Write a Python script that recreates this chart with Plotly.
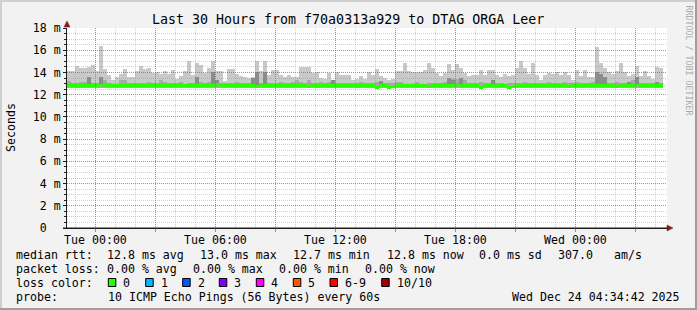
import pandas as pd
import plotly.graph_objects as go

# ---------------- data ----------------
t_start = "2025-12-22 22:34:42"
t_end = "2025-12-24 04:34:42"
first_bar_center = "2025-12-22 22:42:00"
step_minutes = 12

# top of the smoke (slowest ping) in ms
smoke_top = [
    14.13, 14.13, 14.58, 14.37, 14.37, 14.50, 14.67, 14.13, 16.40, 14.33,
    13.77, 13.32, 13.60, 13.90, 14.30, 13.55, 13.55, 14.10, 14.58, 14.33,
    14.40, 13.95, 14.00, 13.90, 14.10, 13.90, 14.20, 13.45, 13.65, 14.10,
    15.03, 13.77, 14.82, 14.67, 13.95, 14.40, 15.00, 14.10, 14.10, 13.20,
    14.33, 14.33, 13.90, 13.70, 13.55, 13.50, 13.55, 15.00, 14.10, 15.00,
    13.77, 14.20, 14.20, 13.77, 13.55, 13.77, 13.55, 13.55, 14.46, 14.46,
    14.46, 13.92, 14.07, 13.47, 13.38, 13.92, 13.32, 14.00, 13.77, 13.77,
    13.77, 13.35, 13.40, 13.65, 13.40, 14.00, 13.80, 14.30, 13.65, 13.50,
    13.35, 13.38, 14.10, 14.10, 14.88, 14.10, 14.00, 14.00, 14.00, 14.25,
    14.85, 14.40, 13.95, 13.65, 13.95, 14.80, 14.25, 14.80, 14.40, 13.95,
    13.65, 13.77, 13.77, 14.20, 13.77, 14.20, 14.20, 13.77, 13.55, 13.90,
    13.70, 13.77, 14.40, 15.00, 14.40, 13.90, 14.85, 13.77, 13.30, 13.77,
    13.95, 13.90, 14.00, 13.80, 14.00, 13.77, 13.30, 14.20, 13.70, 14.25,
    13.60, 13.60, 16.30, 14.85, 14.40, 14.00, 13.90, 14.10, 14.85, 14.00,
    13.70, 13.90, 14.60, 13.70, 14.10, 13.70, 13.40, 14.50, 14.40,
]

# top of the medium-grey smoke band in ms
smoke_mid = [
    13.26, 13.08, 13.08, 13.17, 13.17, 13.20, 13.05, 13.05, 13.30, 13.30,
    13.08, 12.96, 12.96, 13.30, 13.30, 13.08, 13.08, 13.08, 13.08, 13.08,
    13.17, 13.08, 13.08, 13.30, 13.17, 13.02, 13.08, 13.08, 13.17, 12.96,
    13.08, 13.08, 13.20, 13.17, 13.08, 13.17, 13.30, 13.10, 13.08, 13.02,
    13.08, 13.08, 13.17, 13.02, 13.02, 13.08, 13.20, 13.30, 13.08, 13.30,
    13.08, 13.02, 13.02, 13.17, 13.08, 13.02, 13.17, 13.30, 13.17, 13.08,
    13.30, 13.08, 13.02, 13.17, 13.02, 13.17, 13.10, 13.08, 13.08, 13.08,
    13.08, 13.08, 13.02, 13.17, 13.08, 13.02, 13.08, 13.17, 13.26, 13.08,
    13.02, 13.08, 13.17, 13.17, 12.96, 12.96, 12.96, 13.17, 12.96, 12.96,
    13.08, 13.08, 13.02, 13.08, 13.17, 13.40, 13.38, 13.38, 13.40, 13.30,
    13.08, 13.02, 13.08, 13.17, 13.08, 13.08, 13.30, 13.08, 13.02, 12.96,
    13.02, 13.08, 13.08, 13.02, 13.17, 13.08, 13.08, 13.02, 13.08, 13.08,
    13.17, 13.08, 13.02, 13.08, 13.17, 13.08, 13.02, 13.17, 13.08, 13.08,
    13.02, 13.17, 13.45, 13.45, 13.30, 13.08, 13.08, 13.17, 13.08, 13.08,
    13.17, 13.30, 13.38, 13.08, 13.02, 13.08, 13.02, 13.17, 13.08,
]

_ = None
# top of the dark-grey smoke block above the median (None = not visible)
smoke_dark = [
    _, _, _, _, _, 13.55, _, _, 13.60, _,
    _, _, _, _, _, _, _, _, _, _,
    _, _, _, _, _, _, _, _, _, _,
    _, _, 13.55, _, _, _, 14.00, 13.30, _, _,
    _, _, _, _, _, _, 13.47, 14.07, _, 14.07,
    _, _, _, _, _, _, _, _, _, _,
    _, _, _, _, _, _, 13.30, _, _, _,
    _, _, _, _, _, _, _, _, 13.26, _,
    _, _, _, _, _, _, _, _, _, _,
    _, _, _, _, _, 13.47, 13.35, _, 13.47, _,
    _, _, _, _, _, _, 13.30, _, _, _,
    _, _, _, _, _, _, _, _, _, _,
    _, _, _, _, _, _, _, _, _, _,
    _, _, 14.05, 13.90, 13.60, _, _, _, _, _,
    13.17, _, 13.55, _, _, _, _, 13.17, _,
]

# median round trip time in ms
median_rtt = [
    12.80, 12.80, 12.80, 12.80, 12.80, 12.80, 12.80, 12.80, 12.88, 12.80,
    12.80, 12.80, 12.80, 12.80, 12.80, 12.80, 12.80, 12.80, 12.80, 12.80,
    12.85, 12.80, 12.80, 12.80, 12.80, 12.80, 12.80, 12.80, 12.80, 12.80,
    12.80, 12.80, 12.80, 12.80, 12.80, 12.80, 12.80, 12.90, 12.80, 12.80,
    12.80, 12.80, 12.80, 12.80, 12.80, 12.80, 12.80, 12.72, 12.80, 12.80,
    12.80, 12.80, 12.80, 12.80, 12.80, 12.80, 12.80, 12.80, 12.80, 12.80,
    12.75, 12.80, 12.80, 12.80, 12.80, 12.80, 12.80, 12.80, 12.80, 12.80,
    12.80, 12.80, 12.80, 12.80, 12.80, 12.80, 12.80, 12.68, 12.80, 12.80,
    12.68, 12.70, 12.80, 12.80, 12.80, 12.80, 12.80, 12.80, 12.80, 12.80,
    12.75, 12.80, 12.80, 12.80, 12.80, 12.80, 12.80, 12.90, 12.80, 12.80,
    12.80, 12.80, 12.80, 12.68, 12.80, 12.80, 12.80, 12.80, 12.80, 12.80,
    12.66, 12.70, 12.80, 12.80, 12.80, 12.80, 12.80, 12.80, 12.80, 12.80,
    12.85, 12.80, 12.80, 12.80, 12.80, 12.72, 12.80, 12.80, 12.80, 12.80,
    12.80, 12.80, 12.80, 12.80, 12.80, 12.80, 12.80, 12.72, 12.80, 12.80,
    12.80, 12.80, 12.88, 12.80, 12.80, 12.80, 12.80, 12.85, 12.80,
]

# bottom of the smoke (fastest ping) in ms
smoke_low = [
    12.58, 12.62, 12.60, 12.62, 12.58, 12.60, 12.62, 12.60, 12.58, 12.62,
    12.60, 12.58, 12.62, 12.60, 12.60, 12.58, 12.62, 12.60, 12.62, 12.58,
    12.60, 12.62, 12.58, 12.60, 12.62, 12.60, 12.58, 12.62, 12.60, 12.58,
    12.62, 12.60, 12.60, 12.58, 12.62, 12.60, 12.58, 12.62, 12.60, 12.60,
    12.58, 12.62, 12.60, 12.62, 12.58, 12.60, 12.62, 12.58, 12.60, 12.62,
    12.60, 12.58, 12.62, 12.60, 12.60, 12.62, 12.58, 12.60, 12.62, 12.60,
    12.58, 12.62, 12.60, 12.60, 12.58, 12.62, 12.60, 12.58, 12.62, 12.60,
    12.60, 12.62, 12.58, 12.60, 12.62, 12.60, 12.58, 12.55, 12.60, 12.62,
    12.55, 12.56, 12.60, 12.62, 12.58, 12.60, 12.62, 12.60, 12.58, 12.60,
    12.62, 12.60, 12.58, 12.62, 12.60, 12.60, 12.58, 12.62, 12.60, 12.58,
    12.62, 12.60, 12.60, 12.55, 12.62, 12.58, 12.60, 12.62, 12.60, 12.58,
    12.55, 12.56, 12.60, 12.62, 12.60, 12.58, 12.62, 12.60, 12.60, 12.58,
    12.62, 12.60, 12.58, 12.62, 12.60, 12.58, 12.60, 12.62, 12.60, 12.58,
    12.62, 12.60, 12.60, 12.58, 12.62, 12.60, 12.58, 12.58, 12.60, 12.62,
    12.60, 12.58, 12.62, 12.60, 12.60, 12.62, 12.58, 12.60, 12.62,
]

x_tick_times = [
    "2025-12-23 00:00", "2025-12-23 03:00", "2025-12-23 06:00", "2025-12-23 09:00",
    "2025-12-23 12:00", "2025-12-23 15:00", "2025-12-23 18:00", "2025-12-23 21:00",
    "2025-12-24 00:00", "2025-12-24 03:00",
]
x_tick_labels = ["Tue 00:00", "", "Tue 06:00", "", "Tue 12:00", "", "Tue 18:00", "",
                 "Wed 00:00", ""]
y_tick_vals = [0, 2, 4, 6, 8, 10, 12, 14, 16, 18]
y_tick_labels = ["0\u00a0\u00a0", "2\u00a0m", "4\u00a0m", "6\u00a0m", "8\u00a0m",
                 "10\u00a0m", "12\u00a0m", "14\u00a0m", "16\u00a0m", "18\u00a0m"]

title_text = "Last 30 Hours from f70a0313a929 to DTAG ORGA Leer"
legend_rows = [
    ["median rtt:", "12.8 ms avg", "13.0 ms max", "12.7 ms min", "12.8 ms now",
     "0.0 ms sd", "307.0", "am/s"],
    ["packet loss:", "0.00 % avg", "0.00 % max", "0.00 % min", "0.00 % now"],
]
loss_labels = ["0", "1", "2", "3", "4", "5", "6-9", "10/10"]
loss_colors = ["#26ff00", "#00b8ff", "#0059ff", "#7e00ff", "#ff00ff", "#ff5500",
               "#ff0000", "#a10000"]
probe_text = "10 ICMP Echo Pings (56 Bytes) every 60s"
stamp_text = "Wed Dec 24 04:34:42 2025"

# ---------------- styling ----------------
W, H = 697, 310
L, R, T, B = 67, 667, 28, 228
MONO = "DejaVu Sans Mono"
FS = 11.6
GRID = "rgba(143,143,143,0.42)"
MGRID = "rgba(225,70,70,0.75)"
AXIS = "#1f1f1f"
ARROW = "#801f1f"
FAR = "2020-01-01"


def pxx(x):
    return (x - L) / (R - L)


def pxy(y):
    return (B - y) / (B - T)


bar_times = pd.date_range(first_bar_center, periods=len(smoke_top), freq=f"{step_minutes}min")
bw = step_minutes * 60 * 1000

fig = go.Figure()
fig.add_trace(go.Bar(x=bar_times, base=smoke_low,
                     y=[t - l for t, l in zip(smoke_top, smoke_low)],
                     width=bw, marker=dict(color="#c9c9c9", line=dict(width=0)),
                     hoverinfo="skip"))
fig.add_trace(go.Bar(x=bar_times, base=smoke_low,
                     y=[m - l for m, l in zip(smoke_mid, smoke_low)],
                     width=bw, marker=dict(color="#a9a9a9", line=dict(width=0)),
                     hoverinfo="skip"))
fig.add_trace(go.Bar(x=bar_times, base=median_rtt,
                     y=[(d - m) if d is not None else None for d, m in zip(smoke_dark, median_rtt)],
                     width=bw, marker=dict(color="#8c8c8c", line=dict(width=0)),
                     hoverinfo="skip"))
band = 0.125
fig.add_trace(go.Bar(x=bar_times, base=[m - band for m in median_rtt],
                     y=[2 * band] * len(median_rtt),
                     width=bw, marker=dict(color="#26ff00", line=dict(width=0)),
                     hoverinfo="skip"))
# empty traces that carry the grid subplots (drawn above the data)
for ax_n in ("2", "3"):
    fig.add_trace(go.Scatter(x=[t_start], y=[-5], mode="markers", marker=dict(opacity=0),
                             xaxis="x" + ax_n, yaxis="y" + ax_n, hoverinfo="skip"))

hour_times = [t for t in pd.date_range("2025-12-22 23:00", "2025-12-24 04:00", freq="1h")
              if t.hour % 3 != 0]
y_minor = [v / 2 for v in range(1, 36) if v % 4 != 0]


def grid_x(anchor, vals, color):
    return dict(type="date", range=[t_start, t_end], domain=[0, 1], anchor=anchor,
                showline=False, zeroline=False, showticklabels=False, ticks="",
                tickmode="array", tickvals=[FAR], showgrid=False,
                minor=dict(tickmode="array", tickvals=vals, showgrid=True, ticks="",
                           gridcolor=color, gridwidth=1, griddash="1px,1px"))


def grid_y(anchor, vals, color):
    return dict(range=[0, 18], domain=[0, 1], anchor=anchor,
                showline=False, zeroline=False, showticklabels=False, ticks="",
                tickmode="array", tickvals=[-100], showgrid=False,
                minor=dict(tickmode="array", tickvals=vals, showgrid=True, ticks="",
                           gridcolor=color, gridwidth=1, griddash="1px,1px"))


fig.update_layout(
    width=W, height=H,
    margin=dict(l=L, r=W - R, t=T, b=H - B, pad=0),
    paper_bgcolor="#f2f2f2", plot_bgcolor="rgba(0,0,0,0)",
    showlegend=False, barmode="overlay", bargap=0, hovermode=False,
    font=dict(family=MONO, size=FS, color="#000000"),
    xaxis=dict(type="date", range=[t_start, t_end], domain=[0, 1], anchor="y",
               showgrid=False, zeroline=False, showline=True, linecolor=AXIS, linewidth=1,
               tickmode="array", tickvals=x_tick_times, ticktext=x_tick_labels,
               ticks="outside", ticklen=3, tickcolor=MGRID, tickwidth=1,
               ticklabelstandoff=-2,
               tickfont=dict(family=MONO, size=FS, color="#000")),
    yaxis=dict(range=[0, 18], domain=[0, 1], anchor="x",
               showgrid=False, zeroline=False, showline=True, linecolor=AXIS, linewidth=1,
               tickmode="array", tickvals=y_tick_vals, ticktext=y_tick_labels,
               ticks="outside", ticklen=3, tickcolor=AXIS, tickwidth=1,
               tickfont=dict(family=MONO, size=FS, color="#000"),
               minor=dict(tickmode="array", tickvals=y_minor, ticks="outside", ticklen=2,
                          tickcolor=AXIS, showgrid=False)),
    xaxis2=grid_x("y2", hour_times, GRID),
    yaxis2=grid_y("x2", y_minor, GRID),
    xaxis3=grid_x("y3", x_tick_times, MGRID),
    yaxis3=grid_y("x3", y_tick_vals[1:], MGRID),
)

annotations = []


def ann(text, x, y, size=FS, xanchor="left", color="#000", angle=0):
    annotations.append(dict(text=text, x=pxx(x), y=pxy(y), xref="paper", yref="paper",
                            xanchor=xanchor, yanchor="middle", showarrow=False,
                            textangle=angle, borderpad=0,
                            font=dict(family=MONO, size=size, color=color)))


ann(title_text, 348, 19.4, size=13.3, xanchor="center")
ann("Seconds", 11, 128, angle=-90, xanchor="center")
ann("RRDTOOL / TOBI OETIKER", 688.5, 60, size=8.3, xanchor="center", color="#ababab", angle=90)

row1_x = [16, 107.3, 200.3, 293.3, 386.7, 479.3, 558.3, 614.3]
row2_x = [16, 107.3, 193.3, 279.3, 365]
for txt, xx in zip(legend_rows[0], row1_x):
    ann(txt, xx - 1, 254.5)
for txt, xx in zip(legend_rows[1], row2_x):
    ann(txt, xx - 1, 268.5)
ann("loss color:", 15, 282.5)
box_x = [108.3, 145.7, 182.7, 219.3, 256.3, 293.3, 330, 381.7]
shapes = []
for lab, col, bx in zip(loss_labels, loss_colors, box_x):
    shapes.append(dict(type="rect", xref="paper", yref="paper",
                       x0=pxx(bx), x1=pxx(bx + 7.5), y0=pxy(286.5), y1=pxy(278.5),
                       fillcolor=col, line=dict(color="#000", width=1), layer="above"))
    ann(lab, bx + 14, 282.5)
ann("probe:", 15, 296.5)
ann(probe_text, 106.5, 296.5)
ann(stamp_text, 681, 296.5, xanchor="right")

# white canvas below the data
shapes.append(dict(type="rect", xref="paper", yref="paper", x0=0, x1=1, y0=0, y1=1,
                   fillcolor="#ffffff", line=dict(width=0), layer="below"))
# 3D frame
shapes += [
    dict(type="rect", xref="paper", yref="paper", x0=pxx(0), x1=pxx(W), y0=pxy(0), y1=pxy(2),
         fillcolor="#cfcfcf", line=dict(width=0)),
    dict(type="rect", xref="paper", yref="paper", x0=pxx(0), x1=pxx(2), y0=pxy(0), y1=pxy(H),
         fillcolor="#cfcfcf", line=dict(width=0)),
    dict(type="rect", xref="paper", yref="paper", x0=pxx(0), x1=pxx(W), y0=pxy(H - 2), y1=pxy(H),
         fillcolor="#9e9e9e", line=dict(width=0)),
    dict(type="rect", xref="paper", yref="paper", x0=pxx(W - 2), x1=pxx(W), y0=pxy(0), y1=pxy(H),
         fillcolor="#9e9e9e", line=dict(width=0)),
]


def tri(points):
    p = "M " + " L ".join(f"{pxx(a):.5f},{pxy(b):.5f}" for a, b in points) + " Z"
    return dict(type="path", xref="paper", yref="paper", path=p, fillcolor=ARROW,
                line=dict(color=ARROW, width=0.5), layer="above")


shapes.append(tri([(64, 27), (70, 27), (67, 21)]))
shapes.append(tri([(667, 225), (667, 231), (673, 228)]))
# axis line continues into the arrows
shapes.append(dict(type="line", xref="paper", yref="paper", x0=pxx(63), x1=pxx(668),
                   y0=pxy(228), y1=pxy(228), line=dict(color=AXIS, width=1), layer="above"))

fig.update_layout(annotations=annotations, shapes=shapes)
fig.write_html("out.html")
